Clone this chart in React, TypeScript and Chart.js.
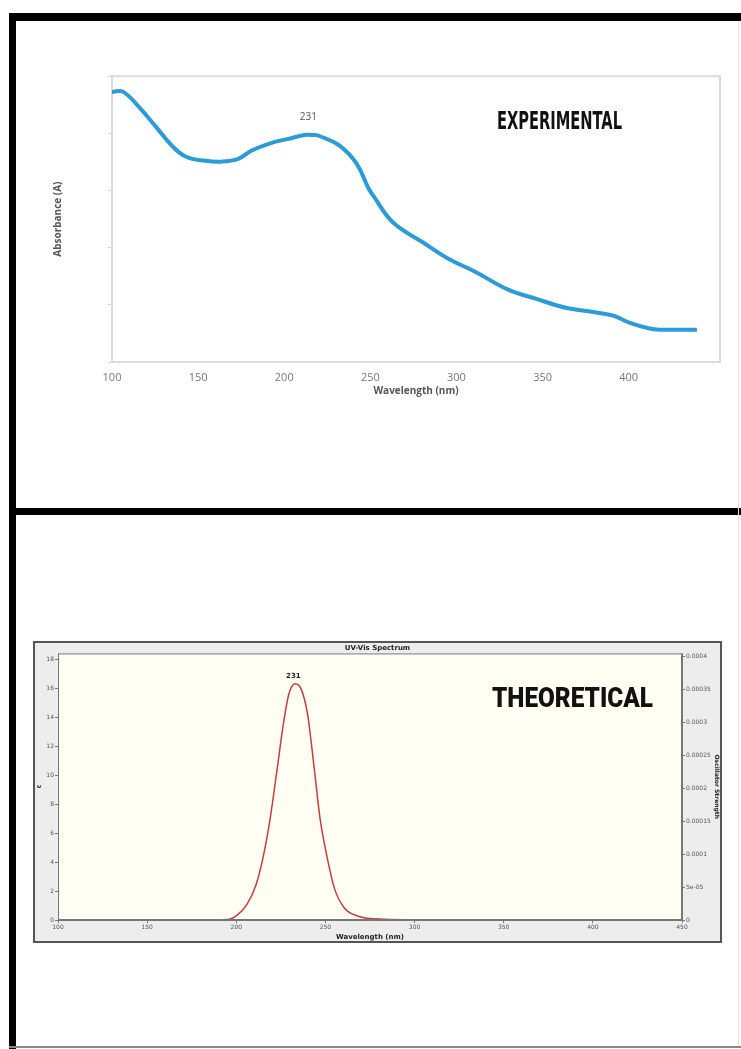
import React, { useEffect, useRef } from 'react';
import { Chart, registerables } from 'chart.js';
Chart.register(...registerables);

// ---------- Experimental spectrum (top) ----------
const expWavelength = [100, 106.3, 116, 125.8, 134.9, 143, 154.4, 163, 173.3, 180.8, 192.2, 201.9, 211.7, 217.4, 220.8, 232.3, 242, 248.9, 251.8, 263.2, 280.4, 295.3, 310.8, 329.7, 346.8, 364, 379.5, 391, 400.7, 412.1, 417.9, 439.6];
const expAbsorbance = [0.945, 0.946, 0.89, 0.821, 0.756, 0.718, 0.704, 0.701, 0.711, 0.739, 0.766, 0.78, 0.794, 0.794, 0.79, 0.756, 0.694, 0.608, 0.581, 0.488, 0.419, 0.361, 0.316, 0.254, 0.22, 0.189, 0.175, 0.162, 0.137, 0.117, 0.113, 0.113];
const expTicks = [100, 150, 200, 250, 300, 350, 400];
const expPeakLabel = '231';
const expPeakLabelAt = { x: 214, y: 0.856 };

// ---------- Theoretical spectrum (bottom) ----------
const theoWavelength = [100, 150, 190, 196, 200, 206, 211, 215, 219, 223, 226.5, 229.5, 233, 236.5, 240, 243.5, 247, 251, 255, 260.5, 268, 283, 300, 350, 400, 450];
const theoEpsilon = [0.02, 0.02, 0.02, 0.05, 0.28, 1.08, 2.4, 4.3, 7.0, 10.5, 13.6, 15.6, 16.3, 15.9, 14.2, 10.7, 7.0, 4.3, 2.2, 0.85, 0.28, 0.05, 0.02, 0.02, 0.02, 0.02];
const theoXTicks = [100, 150, 200, 250, 300, 350, 400, 450];
const theoYTicks = [0, 2, 4, 6, 8, 10, 12, 14, 16, 18];
const oscTickLabels = ['0', '5e-05', '0.0001', '0.00015', '0.0002', '0.00025', '0.0003', '0.00035', '0.0004'];
const theoPeakLabel = '231';
const theoPeakLabelAt = { x: 232, y: 16.85 };

function makeExpConfig(): any {
  const annot = {
    id: 'expAnnot',
    beforeDatasetsDraw(chart: any) {
      const { ctx, chartArea: a } = chart;
      ctx.save();
      ctx.strokeStyle = '#dcdcdc';
      ctx.lineWidth = 2;
      ctx.strokeRect(a.left, a.top, a.right - a.left, a.bottom - a.top);
      ctx.restore();
    },
    afterDraw(chart: any) {
      const { ctx, chartArea: a, scales } = chart;
      ctx.save();
      ctx.fillStyle = '#555';
      ctx.font = '10px "Open Sans", sans-serif';
      ctx.textAlign = 'center';
      ctx.textBaseline = 'middle';
      ctx.fillText(expPeakLabel, scales.x.getPixelForValue(expPeakLabelAt.x), scales.y.getPixelForValue(expPeakLabelAt.y));
      ctx.fillStyle = '#111';
      ctx.font = 'bold 24px "Liberation Sans Narrow", "DejaVu Sans Condensed", sans-serif';
      ctx.textBaseline = 'alphabetic';
      const cx = a.left + (a.right - a.left) * 0.736;
      const by = a.top + (a.bottom - a.top) * 0.1856;
      ctx.fillText('EXPERIMENTAL', cx, by, 125);
      ctx.restore();
    },
  };
  return {
    type: 'line',
    data: {
      datasets: [{
        data: expWavelength.map((x, i) => ({ x, y: expAbsorbance[i] })),
        borderColor: '#2b9bd9',
        borderWidth: 4,
        pointRadius: 0,
        tension: 0.4,
        fill: false,
      }],
    },
    options: {
      responsive: false,
      animation: false,
      layout: { padding: { top: 5, right: 6, left: 0, bottom: 0 } },
      plugins: { legend: { display: false }, tooltip: { enabled: false } },
      scales: {
        x: {
          type: 'linear',
          min: 100,
          max: 453,
          afterFit: (s: any) => { s.height = 44; },
          afterBuildTicks: (s: any) => { s.ticks = expTicks.map((v) => ({ value: v })); },
          ticks: { color: '#777', font: { size: 11, family: '"Open Sans", sans-serif' }, padding: 9, maxRotation: 0, autoSkip: false },
          grid: { display: true, drawOnChartArea: false, drawTicks: false },
          border: { color: '#b5b5b5', width: 2 },
          title: { display: true, text: 'Wavelength (nm)', color: '#555', font: { size: 10, weight: 'bold', family: '"Open Sans", sans-serif' }, padding: { top: 0, bottom: 9 } },
        },
        y: {
          min: 0,
          max: 1,
          afterFit: (s: any) => { s.width = 60; },
          ticks: { stepSize: 0.2, callback: () => '', includeBounds: false },
          grid: { display: true, drawOnChartArea: false, tickLength: 4, color: '#d5d5d5' },
          border: { color: '#dcdcdc', width: 2 },
          title: { display: true, text: 'Absorbance (A)', color: '#555', font: { size: 10, weight: 'bold', family: '"Open Sans", sans-serif' }, padding: { top: 0, bottom: 0 } },
        },
      },
    },
    plugins: [annot],
  };
}

function makeTheoConfig(): any {
  const annot = {
    id: 'theoAnnot',
    beforeDatasetsDraw(chart: any) {
      const { ctx, chartArea: a } = chart;
      ctx.save();
      ctx.fillStyle = '#fffff4';
      ctx.fillRect(a.left, a.top, a.right - a.left, a.bottom - a.top);
      ctx.restore();
    },
    afterDraw(chart: any) {
      const { ctx, chartArea: a, scales } = chart;
      ctx.save();
      ctx.strokeStyle = '#777';
      ctx.lineWidth = 1;
      ctx.strokeRect(a.left + 0.5, a.top + 0.5, a.right - a.left - 1, a.bottom - a.top - 1);
      ctx.fillStyle = '#222';
      ctx.font = 'bold 7px "DejaVu Sans", sans-serif';
      ctx.textAlign = 'center';
      ctx.textBaseline = 'middle';
      ctx.fillText(theoPeakLabel, scales.x.getPixelForValue(theoPeakLabelAt.x), scales.y.getPixelForValue(theoPeakLabelAt.y));
      ctx.fillStyle = '#111';
      ctx.font = '900 28px Roboto, "DejaVu Sans", sans-serif';
      ctx.textBaseline = 'alphabetic';
      const cx = a.left + (a.right - a.left) * 0.8245;
      const by = a.top + (a.bottom - a.top) * 0.202;
      ctx.fillText('THEORETICAL', cx, by, 161);
      ctx.restore();
    },
  };
  const tickFont = { size: 6, family: '"DejaVu Sans", sans-serif' };
  return {
    type: 'line',
    data: {
      datasets: [{
        data: theoWavelength.map((x, i) => ({ x, y: theoEpsilon[i] })),
        borderColor: '#cc3b3b',
        borderWidth: 1.5,
        pointRadius: 0,
        tension: 0.4,
        cubicInterpolationMode: 'monotone',
        fill: false,
        yAxisID: 'y',
      }],
    },
    options: {
      responsive: false,
      animation: false,
      layout: { padding: 0 },
      plugins: {
        legend: { display: false },
        tooltip: { enabled: false },
        title: { display: true, text: 'UV-Vis Spectrum', color: '#222', font: { size: 7, weight: 'bold', family: '"DejaVu Sans", sans-serif' }, padding: { top: 1, bottom: 1 } },
      },
      scales: {
        x: {
          type: 'linear',
          min: 100,
          max: 450,
          afterFit: (s: any) => { s.height = 21; },
          afterBuildTicks: (s: any) => { s.ticks = theoXTicks.map((v) => ({ value: v })); },
          ticks: { color: '#555', font: tickFont, padding: 1, maxRotation: 0, autoSkip: false },
          grid: { display: true, drawOnChartArea: false, tickLength: 3, color: '#777' },
          border: { color: '#777' },
          title: { display: true, text: 'Wavelength (nm)', color: '#222', font: { size: 7, weight: 'bold', family: '"DejaVu Sans", sans-serif' }, padding: { top: 0, bottom: 0 } },
        },
        y: {
          position: 'left',
          min: 0,
          max: 18.4,
          afterFit: (s: any) => { s.width = 23; },
          afterBuildTicks: (s: any) => { s.ticks = theoYTicks.map((v) => ({ value: v })); },
          ticks: { color: '#555', font: tickFont, padding: 1, autoSkip: false },
          grid: { display: true, drawOnChartArea: false, tickLength: 3, color: '#777' },
          border: { color: '#777' },
          title: { display: true, text: 'ε', color: '#222', font: { size: 7, weight: 'bold' }, padding: { top: 0, bottom: 0 } },
        },
        y1: {
          position: 'right',
          min: 0,
          max: 0.000405,
          afterFit: (s: any) => { s.width = 38; },
          afterBuildTicks: (s: any) => { s.ticks = oscTickLabels.map((_, i) => ({ value: i * 0.00005 })); },
          ticks: { color: '#555', font: tickFont, padding: 1, autoSkip: false, callback: (_v: any, i: number) => oscTickLabels[i] ?? '' },
          grid: { display: true, drawOnChartArea: false, tickLength: 3, color: '#777' },
          border: { color: '#777' },
          title: { display: true, text: 'Oscillator Strength', color: '#222', font: { size: 6, weight: 'bold', family: '"DejaVu Sans", sans-serif' }, padding: { top: 0, bottom: 0 } },
        },
      },
    },
    plugins: [annot],
  };
}

function ChartCanvas({ make, width, height, style }: { make: () => any; width: number; height: number; style: React.CSSProperties }) {
  const ref = useRef<HTMLCanvasElement | null>(null);
  useEffect(() => {
    if (!ref.current) return;
    const chart = new Chart(ref.current, make());
    return () => chart.destroy();
  }, []);
  return <canvas ref={ref} width={width} height={height} style={{ position: 'absolute', width, height, ...style }} />;
}

export default function App() {
  const line = (s: React.CSSProperties) => <div style={{ position: 'absolute', background: '#000', ...s }} />;
  return (
    <div style={{ position: 'absolute', left: 0, top: 0, width: 741, height: 1049, background: '#fff', overflow: 'hidden' }}>
      {line({ left: 9, top: 13, width: 7, height: 1036 })}
      {line({ left: 9, top: 13, width: 732, height: 8 })}
      {line({ left: 9, top: 508, width: 732, height: 7 })}
      {line({ left: 9, top: 1046, width: 732, height: 2, background: '#888' })}
      {line({ left: 738, top: 21, width: 1, height: 1025, background: '#e2e2e2' })}
      <ChartCanvas make={makeExpConfig} width={674} height={340} style={{ left: 52, top: 66 }} />
      <div style={{ position: 'absolute', left: 33, top: 641, width: 689, height: 302, boxSizing: 'border-box', border: '2px solid #555', background: '#ededed' }} />
      <ChartCanvas make={makeTheoConfig} width={685} height={298} style={{ left: 35, top: 643 }} />
    </div>
  );
}
